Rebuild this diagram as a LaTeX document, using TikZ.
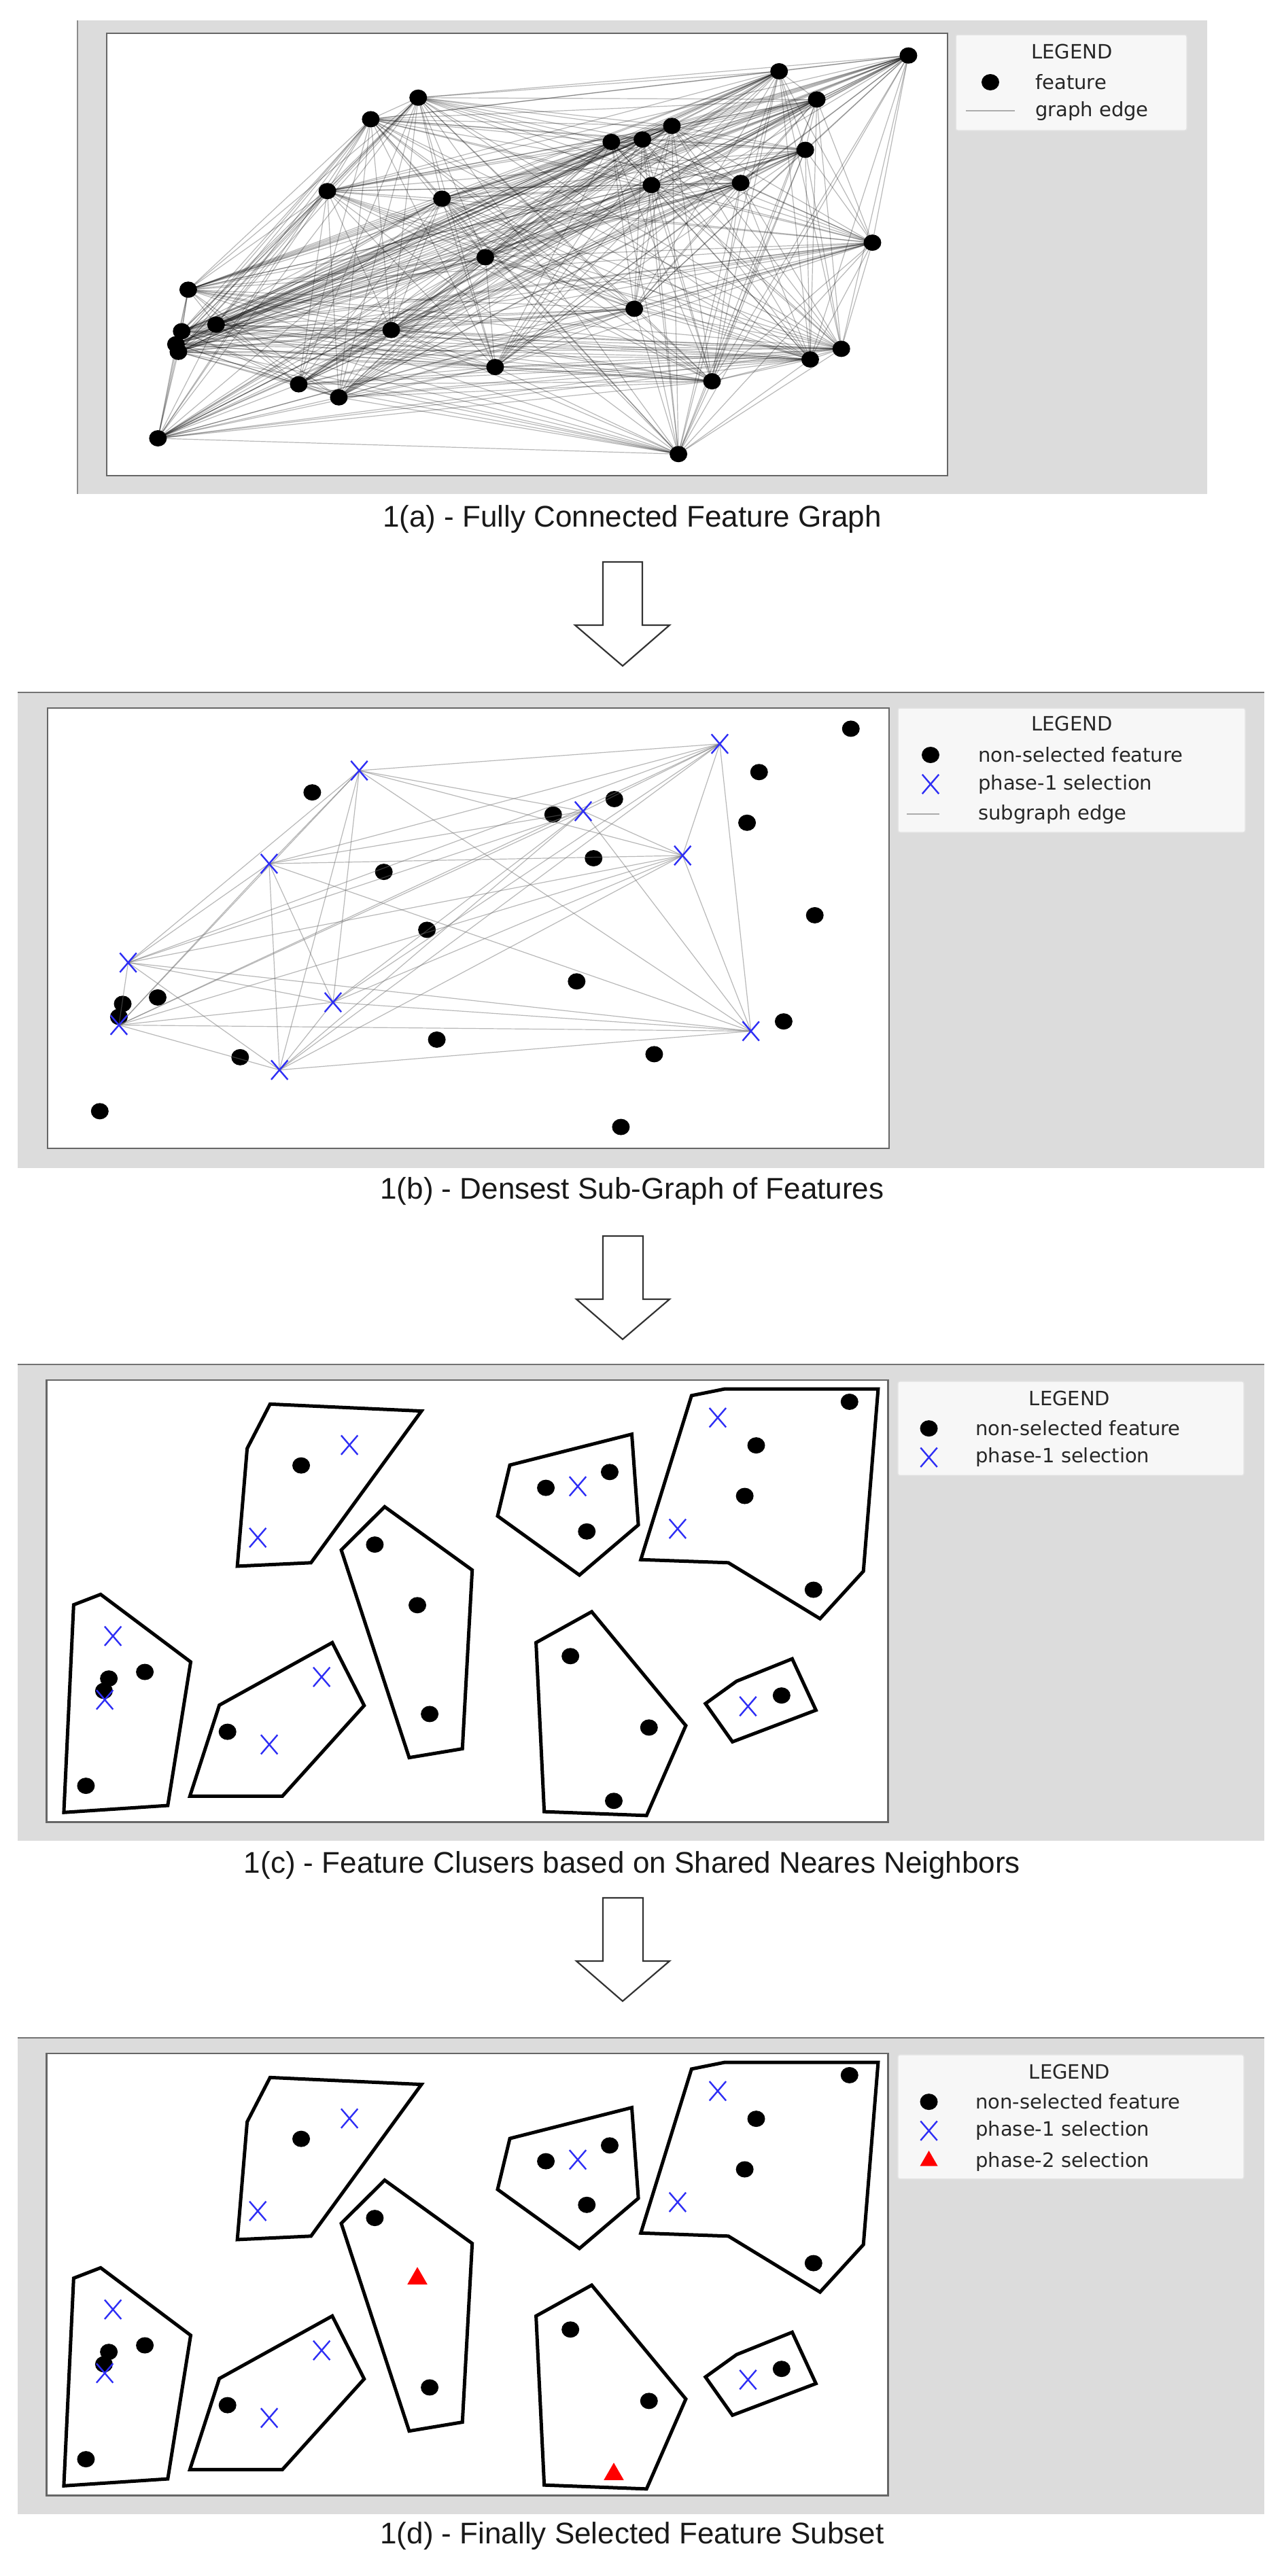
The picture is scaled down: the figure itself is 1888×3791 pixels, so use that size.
\documentclass[tikz,border=0pt]{standalone}
\usepackage{fontspec}
\setmainfont{Liberation Sans}
\newfontfamily\legfont{DejaVu Sans}
\usetikzlibrary{shapes.geometric,shapes.misc}
\definecolor{bgg}{HTML}{DCDCDC}
\definecolor{legbg}{HTML}{F7F7F7}
\definecolor{legbd}{HTML}{E2E2E2}
\definecolor{xblue}{HTML}{2E2EF5}
\tikzset{
  fdot/.style={ellipse,fill=black,minimum width=26pt,minimum height=24pt,inner sep=0pt},
  fx/.style={cross out,draw=xblue,line width=2.4pt,minimum width=22pt,minimum height=26pt,inner sep=0pt},
  ftri/.style={regular polygon,regular polygon sides=3,fill=red,minimum size=34pt,inner sep=0pt},
  aedge/.style={draw=black,opacity=0.28,line width=1.2pt},
  bedge/.style={draw=black!55,opacity=0.5,line width=1.2pt},
  panelbg/.style={fill=bgg},
  plotbox/.style={fill=white,draw=black!60,line width=2.5pt},
  legbox/.style={fill=legbg,draw=legbd,line width=1.5pt,rounded corners=3pt},
  legtxt/.style={font=\legfont\fontsize{29}{34}\selectfont,text=black!85,inner sep=0pt},
  captxt/.style={font=\fontsize{44}{50}\selectfont,text=black!90},
  clus/.style={draw=black,line width=5pt,line join=miter},
  bigarrow/.style={draw=black!80,line width=2.2pt,fill=white}
}
\newcommand\clusterpanelX[3]{% #1 prefix, #2 yshift, #3 = 1 with triangles
\begin{scope}[shift={(0,#2)},xscale=1.204,yscale=0.568]
  \fill[panelbg] (22,175) rectangle (1545,1408);
  \draw[black!55,line width=2pt] (22,175) -- (1545,175);
  \draw[plotbox] (57,215) rectangle (1085,1360);
  \draw[clus] (330,277) -- (515,295) -- (380,688) -- (290,697) -- (302,392) -- cycle;
  \draw[clus] (470,543) -- (577,707) -- (565,1170) -- (500,1193) -- (417,655) -- cycle;
  \draw[clus] (623,435) -- (772,355) -- (780,590) -- (708,720) -- (608,567) -- cycle;
  \draw[clus] (845,255) -- (885,238) -- (1073,238) -- (1055,710) -- (1002,833) -- (890,688) -- (783,680) -- cycle;
  \draw[clus] (90,797) -- (123,770) -- (233,945) -- (205,1317) -- (78,1335) -- cycle;
  \draw[clus] (268,1057) -- (406,895) -- (445,1058) -- (345,1293) -- (232,1293) -- cycle;
  \draw[clus] (655,895) -- (723,815) -- (838,1110) -- (790,1343) -- (665,1333) -- cycle;
  \draw[clus] (862,1053) -- (900,995) -- (968,937) -- (997,1070) -- (895,1152) -- cycle;
  \foreach \u/\v [count=\i] in {368/436,458/641,525/1080,667/494,745/453,717/607,1038/271,924/384,910/515,994/758,133/988,177/971,127/1020,105/1266,278/1126,697/930,793/1115,955/1032}
    {\node[fdot] (#1d\i) at (\u,\v) {};}
  \foreach \u/\v [count=\i] in {427/383,315/623,706/490,877/312,828/600,138/878,128/1043,393/984,329/1159,914/1060}
    {\node[fx] (#1x\i) at (\u,\v) {};}
  \ifnum#3=1
    \node[ftri] (#1t1) at (510,798) {};
    \node[ftri] (#1t2) at (750,1305) {};
    \draw[legbox] (1097,218) rectangle (1520,540);
  \else
    \node[fdot] (#1t1) at (510,798) {};
    \node[fdot] (#1t2) at (750,1305) {};
    \draw[legbox] (1097,218) rectangle (1520,462);
  \fi
  \node[legtxt] (#1lg) at (1307,262) {LEGEND};
  \node[fdot] (#1lm1) at (1135,340) {};
  \node[legtxt,anchor=west] (#1l1) at (1192,340) {non-selected feature};
  \node[fx] (#1lm2) at (1135,415) {};
  \node[legtxt,anchor=west] (#1l2) at (1192,415) {phase-1 selection};
  \ifnum#3=1
    \node[ftri,minimum size=30pt] (#1lm3) at (1135,493) {};
    \node[legtxt,anchor=west] (#1l3) at (1192,495) {phase-2 selection};
  \fi
\end{scope}}
\begin{document}
\begin{tikzpicture}[x=1pt,y=-1pt]
\useasboundingbox[fill=white] (0,0) rectangle (1888,3791);
% ---------- panel a
\fill[panelbg] (114,30) rectangle (1776,727);
\draw[black!45,line width=2pt] (114,30) -- (114,727);
\draw[plotbox] (157,49) rectangle (1394,700);
\begin{scope}[xscale=1.204,yscale=0.4464]
\foreach \u/\v [count=\i] in {1110/183,952/235,511/322,998/328,453/393,821/415,785/460,747/468,984/494,400/630,540/655,796/610,905/603,1066/800,593/848,230/955,775/1018,264/1070,222/1092,478/1088,215/1135,218/1160,1028/1150,990/1185,605/1210,870/1257,365/1267,414/1310,193/1445,829/1497}
  {\coordinate (a\i) at (\u,\v);}
\end{scope}
\foreach \i in {1,...,30}{\foreach \j in {1,...,30}{\ifnum\i<\j \draw[aedge] (a\i) -- (a\j);\fi}}
\foreach \i in {1,...,30} {\node[fdot] (am\i) at (a\i) {};}
\draw[legbox] (1406,51) rectangle (1746,192);
\node[legtxt] (alg) at (1577,76) {LEGEND};
\node[fdot] (alm1) at (1457,121) {};
\node[legtxt,anchor=west] (al1) at (1523,121) {feature};
\coordinate (als) at (1421,163); \coordinate (ale) at (1493,163);
\draw[aedge,opacity=0.3,line width=2pt] (als) -- (ale);
\node[legtxt,anchor=west] (al2) at (1523,163) {graph edge};
\node[captxt] (capa) at (930,764) {1(a) - Fully Connected Feature Graph};
\draw[bigarrow] (887,827) -- (945,827) -- (945,920) -- (985,920) -- (916,980) -- (846,920) -- (887,920) -- cycle;
% ---------- panel b
\fill[panelbg] (26,1019) rectangle (1860,1719);
\draw[black!55,line width=2pt] (26,1019) -- (1860,1019);
\draw[plotbox] (70,1042) rectangle (1308,1690);
\begin{scope}[shift={(60,1030)},xscale=0.8036,yscale=0.4464]
\foreach \u/\v [count=\i] in {583/233,1243/145,993/367,418/540,1175/513,160/866,535/997,143/1072,1300/1092,437/1220}
  {\coordinate (bx\i) at (\u,\v);}
\foreach \u/\v [count=\i] in {1483/95,1315/238,497/305,1050/327,938/378,1293/405,1012/522,628/567,1417/710,707/758,981/928,214/981,150/1002,143/1045,1360/1060,725/1120,365/1178,1123/1168,108/1356,1062/1408}
  {\node[fdot] (bd\i) at (\u,\v) {};}
\end{scope}
\foreach \i in {1,...,10}{\foreach \j in {1,...,10}{\ifnum\i<\j \draw[bedge] (bx\i) -- (bx\j);\fi}}
\foreach \i in {1,...,10} {\node[fx] (bxm\i) at (bx\i) {};}
\draw[legbox] (1321,1042) rectangle (1832,1225);
\node[legtxt] (blg) at (1577,1065) {LEGEND};
\node[fdot] (blm1) at (1369,1111) {};
\node[legtxt,anchor=west] (bl1) at (1439,1111) {non-selected feature};
\node[fx] (blm2) at (1369,1154) {};
\node[legtxt,anchor=west] (bl2) at (1439,1154) {phase-1 selection};
\coordinate (bls) at (1334,1198); \coordinate (ble) at (1382,1198);
\draw[aedge,opacity=0.3,line width=2.5pt] (bls) -- (ble);
\node[legtxt,anchor=west] (bl3) at (1439,1198) {subgraph edge};
\node[captxt] (capb) at (930,1753) {1(b) - Densest Sub-Graph of Features};
\draw[bigarrow] (887,1819) -- (946,1819) -- (946,1912) -- (985,1912) -- (916,1971) -- (848,1912) -- (887,1912) -- cycle;
% ---------- panel c
\clusterpanelX{c}{1909}{0}
\node[captxt] (capc) at (930,2745) {1(c) - Feature Clusers based on Shared Neares Neighbors};
\draw[bigarrow] (887,2793) -- (946,2793) -- (946,2886) -- (985,2886) -- (916,2945) -- (848,2886) -- (887,2886) -- cycle;
% ---------- panel d
\clusterpanelX{d}{2900}{1}
\node[captxt] (capd) at (930,3732) {1(d) - Finally Selected Feature Subset};
\end{tikzpicture}
\end{document}
